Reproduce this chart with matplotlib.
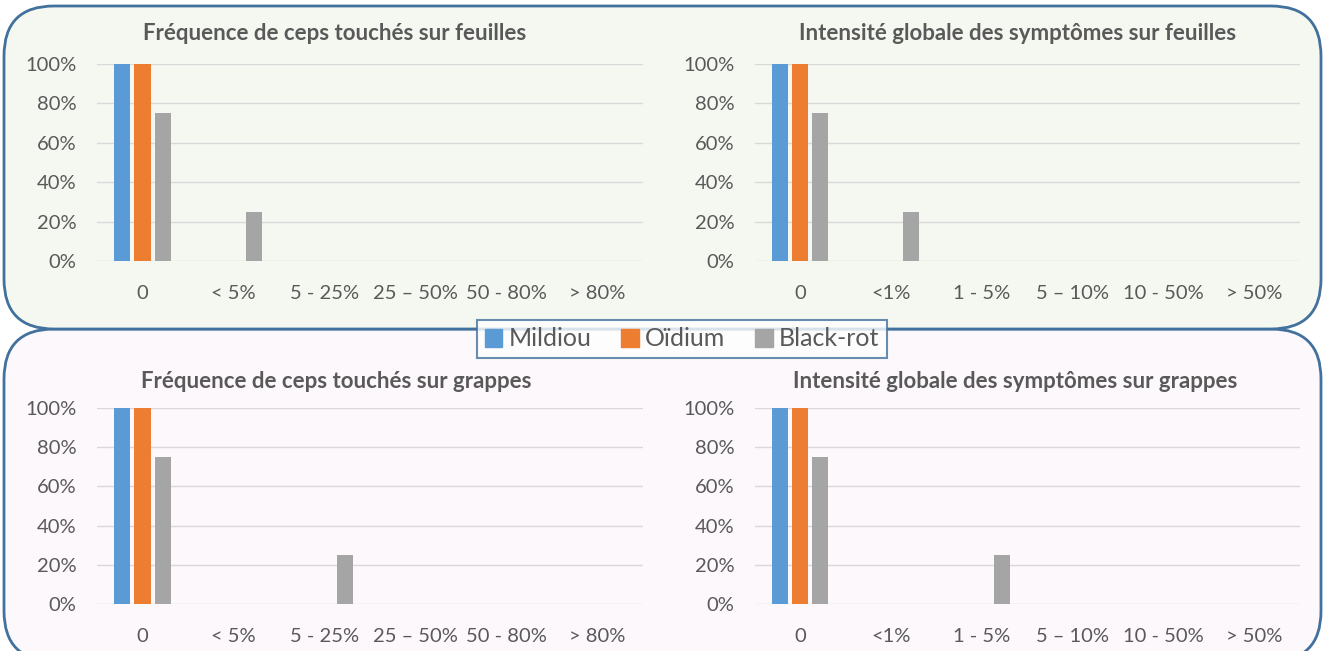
import matplotlib.pyplot as plt
from matplotlib.patches import FancyBboxPatch, Patch

plt.rcParams['font.family'] = ['Lato', 'DejaVu Sans']

series = ['Mildiou', 'Oïdium', 'Black-rot']
colors = ['#5B9BD5', '#ED7D31', '#A5A5A5']

freq_labels = ['0', '< 5%', '5 - 25%', '25 – 50%', '50 - 80%', '> 80%']
intens_labels = ['0', '<1%', '1 - 5%', '5 – 10%', '10 - 50%', '> 50%']

# share of vines per class, one list per disease
freq_feuilles = [[1.0, 0, 0, 0, 0, 0], [1.0, 0, 0, 0, 0, 0], [0.75, 0.25, 0, 0, 0, 0]]
intens_feuilles = [[1.0, 0, 0, 0, 0, 0], [1.0, 0, 0, 0, 0, 0], [0.75, 0.25, 0, 0, 0, 0]]
freq_grappes = [[1.0, 0, 0, 0, 0, 0], [1.0, 0, 0, 0, 0, 0], [0.75, 0, 0.25, 0, 0, 0]]
intens_grappes = [[1.0, 0, 0, 0, 0, 0], [1.0, 0, 0, 0, 0, 0], [0.75, 0, 0.25, 0, 0, 0]]

text_col = '#595959'
W, H = 13.25, 6.51
fig = plt.figure(figsize=(W, H), dpi=100)

# rounded backgrounds, drawn in inches so the corners stay circular
top_box = FancyBboxPatch((0.04, 3.22), 13.17, 3.23, boxstyle='round,pad=0,rounding_size=0.5',
                         transform=fig.dpi_scale_trans, fc='#F5F8F1', ec='#41719C', lw=2, zorder=-2)
bot_box = FancyBboxPatch((0.04, -0.1), 13.17, 3.32, boxstyle='round,pad=0,rounding_size=0.5',
                         transform=fig.dpi_scale_trans, fc='#FDF8FC', ec='#41719C', lw=2, zorder=-3)
fig.patches.extend([bot_box, top_box])

# (axes x range px, 0% y px, 100% y px, title centre x px, title y px, ...)
panels = [
    ([97, 643], 261, 64, 335, 33, 'Fréquence de ceps touchés sur feuilles', freq_labels, freq_feuilles),
    ([755, 1300], 261, 64, 1018, 33, 'Intensité globale des symptômes sur feuilles', intens_labels, intens_feuilles),
    ([97, 643], 604, 408, 336, 381, 'Fréquence de ceps touchés sur grappes', freq_labels, freq_grappes),
    ([755, 1300], 604, 408, 1015, 381, 'Intensité globale des symptômes sur grappes', intens_labels, intens_grappes),
]

w = 0.176
offsets = [-0.22, 0, 0.22]
for (xr, y0, y1, tx, ty, title, labels, data) in panels:
    ax = fig.add_axes([xr[0] / 1325, 1 - y0 / 651, (xr[1] - xr[0]) / 1325, (y0 - y1) / 651])
    ax.set_facecolor('none')
    x = list(range(len(labels)))
    for vals, off, c in zip(data, offsets, colors):
        ax.bar([i + off for i in x], vals, width=w, color=c, zorder=3)
    ax.set_xlim(-0.5, len(labels) - 0.5)
    ax.set_ylim(0, 1)
    ax.set_yticks([0, 0.2, 0.4, 0.6, 0.8, 1.0])
    ax.set_yticklabels(['0%', '20%', '40%', '60%', '80%', '100%'])
    ax.set_xticks(x)
    ax.set_xticklabels(labels)
    ax.grid(axis='y', color='#D9D9D9', lw=1, zorder=0)
    for s in ax.spines.values():
        s.set_visible(False)
    ax.tick_params(length=0, labelsize=14.5, colors=text_col)
    ax.tick_params(axis='x', pad=17)
    ax.tick_params(axis='y', pad=15)
    fig.text(tx / 1325, 1 - ty / 651, title, ha='center', va='center', fontsize=16,
             fontweight='bold', color=text_col)

handles = [Patch(color=c, label=s) for s, c in zip(series, colors)]
leg = fig.legend(handles=handles, loc='center', bbox_to_anchor=(682 / 1325, 1 - 339 / 651), ncol=3,
                 fontsize=18, frameon=True, fancybox=False, handlelength=0.7, handleheight=0.7,
                 handletextpad=0.25, columnspacing=1.2, borderpad=0.3)
leg.get_frame().set_edgecolor('#41719C')
leg.get_frame().set_linewidth(1.5)
for t in leg.get_texts():
    t.set_color(text_col)

fig.savefig('out.png', dpi=100)
